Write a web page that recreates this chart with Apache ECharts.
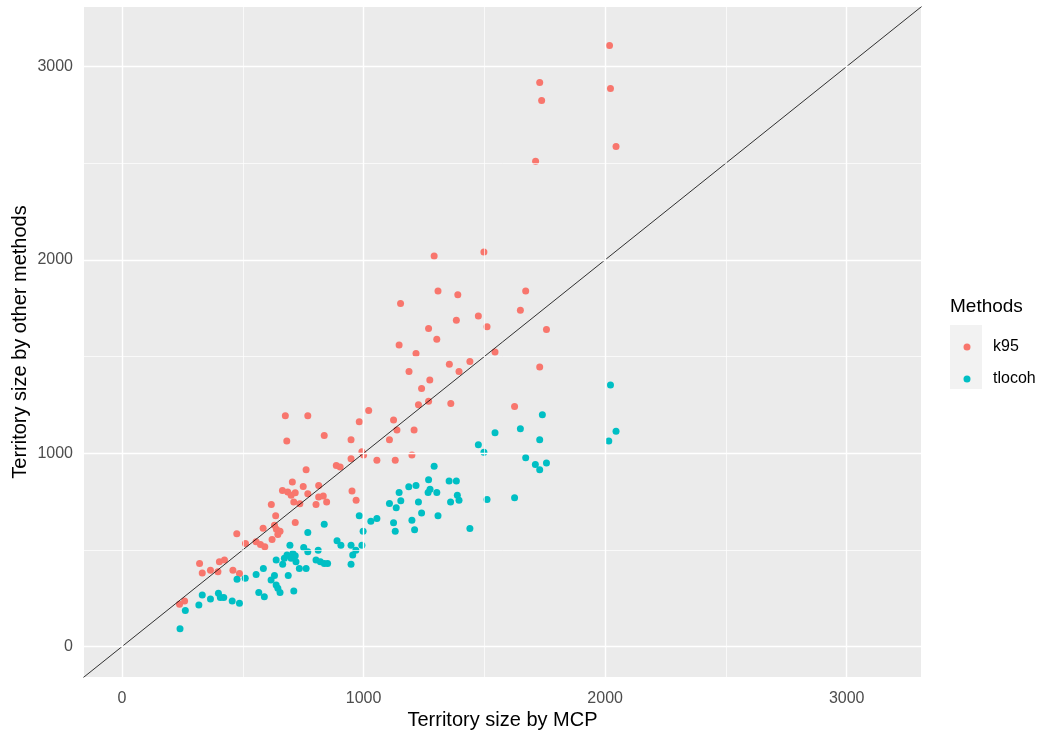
<!DOCTYPE html>
<html>
<head>
<meta charset="utf-8">
<script src="https://cdn.jsdelivr.net/npm/echarts@6/dist/echarts.min.js"></script>
<style>
  html, body { margin: 0; padding: 0; background: #fff; }
  #chart { width: 1040px; height: 731px; }
</style>
</head>
<body>
<div id="chart"></div>
<script>
// k95 points: [MCP, other]
let k95 = [
  [2018, 3109], [2022, 2886], [2045, 2586], [1729, 2917], [1737, 2824], [1712, 2510],
  [1292, 2020], [1498, 2040], [1308, 1839], [1390, 1819], [1153, 1774], [1671, 1839],
  [1649, 1739], [1384, 1688], [1475, 1709], [1511, 1654], [1269, 1645], [1303, 1589],
  [1147, 1559], [1217, 1516], [1757, 1639], [1544, 1523], [1188, 1422], [1274, 1379],
  [1355, 1460], [1440, 1474], [1395, 1422], [1729, 1446], [1240, 1335], [1227, 1250],
  [1269, 1269], [1361, 1257], [1124, 1171], [1138, 1120], [1209, 1120], [1107, 1070],
  [1625, 1242], [1055, 964], [1131, 964], [1200, 991], [676, 1194], [769, 1194],
  [682, 1063], [837, 1091], [948, 1070], [1021, 1221], [982, 1163], [948, 971],
  [993, 1008], [1000, 991], [762, 914], [887, 936], [903, 928], [705, 851],
  [750, 828], [664, 807], [686, 799], [700, 782], [717, 796], [769, 790],
  [814, 833], [814, 773], [833, 779], [847, 748], [803, 734], [711, 748],
  [736, 739], [952, 804], [969, 756], [618, 734], [636, 676], [717, 641],
  [475, 583], [584, 612], [631, 627], [639, 607], [654, 596], [645, 579],
  [621, 554], [511, 533], [555, 542], [573, 528], [591, 516], [321, 430],
  [332, 380], [366, 395], [397, 387], [403, 439], [424, 447], [459, 395],
  [486, 378], [238, 219], [259, 236]
]

let tlocoh = [
  [2022, 1352], [2045, 1113], [2015, 1063], [1740, 1199], [1544, 1106], [1649, 1127],
  [1729, 1070], [1475, 1043], [1498, 1005], [1671, 976], [1711, 941], [1729, 914],
  [1757, 949], [1292, 933], [1269, 863], [1187, 826], [1217, 833], [1147, 797],
  [1267, 797], [1275, 813], [1303, 797], [1354, 856], [1384, 856], [1388, 782],
  [1395, 756], [1360, 748], [1107, 740], [1135, 718], [1154, 754], [1227, 748],
  [1240, 691], [1308, 676], [1511, 761], [1625, 770], [1055, 662], [1030, 648],
  [1124, 640], [1131, 596], [1200, 653], [1211, 604], [1440, 610], [837, 632],
  [982, 676], [998, 596], [769, 590], [890, 547], [906, 524], [948, 524],
  [993, 524], [695, 524], [752, 512], [769, 490], [812, 498], [968, 498],
  [955, 473], [638, 447], [683, 473], [707, 481], [717, 470], [672, 456],
  [700, 456], [720, 439], [665, 425], [803, 447], [821, 439], [837, 430],
  [851, 430], [948, 425], [734, 404], [762, 404], [585, 404], [555, 373],
  [510, 353], [476, 348], [631, 367], [617, 344], [638, 318], [645, 301],
  [654, 279], [688, 367], [711, 287], [566, 279], [589, 258], [332, 267],
  [366, 246], [399, 275], [407, 253], [421, 253], [318, 215], [456, 236],
  [486, 224], [262, 186], [240, 92]
]

let tickValues = [0, 1000, 2000, 3000]
let minorValues = [500, 1500, 2500]
let axisMin = -157.5
let axisMax = 3307.5
let abline = [[-200, -200], [3400, 3400]]

let font = 'Liberation Sans, Arial, sans-serif'

function gridLines(dim) {
  let out = []
  tickValues.forEach(v => {
    let o = { lineStyle: { width: 1.4 } }
    o[dim] = v
    out.push(o)
  })
  minorValues.forEach(v => {
    let o = { lineStyle: { width: 0.7 } }
    o[dim] = v
    out.push(o)
  })
  return out
}

function makeAxis(name, isY) {
  return {
    type: 'value',
    min: axisMin,
    max: axisMax,
    name: name,
    nameLocation: 'middle',
    nameGap: isY ? 54 : 33,
    nameMoveOverlap: false,
    nameTextStyle: { color: '#000', fontSize: 20, fontFamily: font },
    axisLine: { show: false },
    axisTick: { show: true, length: 5, customValues: tickValues, lineStyle: { color: '#333', width: 1 } },
    axisLabel: {
      customValues: tickValues,
      formatter: v => String(v),
      color: '#4D4D4D', fontSize: 16, fontFamily: font,
      margin: isY ? 11 : 14
    },
    splitLine: { show: false }
  }
}

var myChart = echarts.init(document.getElementById('chart'))
var option = {
  animation: false,
  grid: {
    left: 84, right: 119, top: 7, bottom: 54,
    outerBoundsMode: 'none', containLabel: false,
    show: true, backgroundColor: '#EBEBEB', borderWidth: 0
  },
  xAxis: makeAxis('Territory size by MCP', false),
  yAxis: makeAxis('Territory size by other methods', true),
  legend: {
    orient: 'vertical',
    left: 958.5,
    top: 334,
    itemWidth: 20,
    itemHeight: 7,
    itemGap: 16,
    icon: 'circle',
    data: ['k95', 'tlocoh'],
    textStyle: { color: '#000', fontSize: 16, fontFamily: font, lineHeight: 16, padding: [0, 0, 0, 11] }
  },
  graphic: [
    { type: 'rect', left: 950, top: 325, shape: { width: 32, height: 64 }, style: { fill: '#F2F2F2' }, z: -1 },
    { type: 'text', left: 950, top: 297, style: { text: 'Methods', fontSize: 19, fontFamily: font, fill: '#000' } }
  ],
  series: [
    {
      name: 'grid',
      type: 'line',
      data: [],
      silent: true,
      z: 1,
      markLine: {
        silent: true,
        symbol: 'none',
        label: { show: false },
        lineStyle: { color: '#FFFFFF', type: 'solid' },
        data: gridLines('xAxis').concat(gridLines('yAxis'))
      }
    },
    {
      name: 'k95',
      type: 'scatter',
      data: k95,
      symbolSize: 7,
      itemStyle: { color: '#F8766D', opacity: 1 },
      z: 3
    },
    {
      name: 'tlocoh',
      type: 'scatter',
      data: tlocoh,
      symbolSize: 7,
      itemStyle: { color: '#00BFC4', opacity: 1 },
      z: 3
    },
    {
      name: 'abline',
      type: 'line',
      data: abline,
      clip: true,
      symbol: 'none',
      silent: true,
      lineStyle: { color: '#000', width: 0.8 },
      z: 4
    }
  ]
}

myChart.setOption(option)
</script>
</body>
</html>
